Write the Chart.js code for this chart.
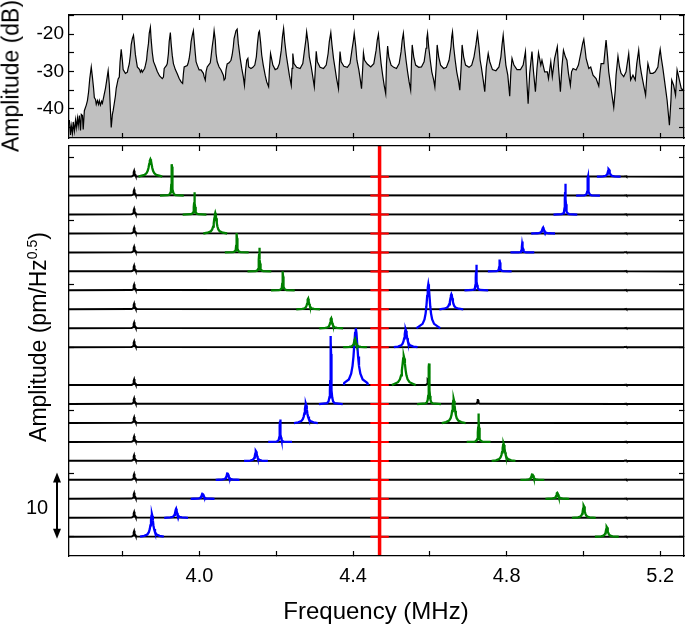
<!DOCTYPE html>
<html>
<head>
<meta charset="utf-8">
<script src="https://cdn.jsdelivr.net/npm/chart.js@4.4.0/dist/chart.umd.min.js"></script>
<style>
  body { margin: 0; background: #fff; width: 685px; height: 628px; position: relative; overflow: hidden;
         font-family: "Liberation Sans", Arial, sans-serif; }
  canvas { position: absolute; left: 0; }
  #topChart { top: 0; }
  #waterfall { top: 142px; }
  .lbl { position: absolute; white-space: nowrap; line-height: 1; color: #000; transform: translate(-50%, -50%); }
  .rot { transform: translate(-50%, -50%) rotate(-90deg); }
  sup { font-size: 14px; line-height: 0; vertical-align: 9px; }
</style>
</head>
<body>
<canvas id="topChart" width="685" height="142"></canvas>
<canvas id="waterfall" width="685" height="486"></canvas>
<div class="lbl rot" style="left:11px;top:76px;font-size:23px">Amplitude (dB)</div>
<div class="lbl rot" style="left:38px;top:337px;font-size:23px">Amplitude (pm/Hz<sup>0.5</sup>)</div>
<div class="lbl" style="left:37px;top:507px;font-size:20px">10</div>
<div class="lbl" style="left:376px;top:611px;font-size:24px">Frequency (MHz)</div>
<script>
// ---- top panel: spectrum (MHz, dB) ----
const spectrum = [
  [3.661,-43.0],[3.664,-47.0],[3.666,-44.5],[3.669,-46.5],[3.671,-43.5],[3.674,-46.0],[3.677,-43.0],[3.679,-45.0],
  [3.682,-42.5],[3.684,-44.5],[3.687,-41.8],[3.690,-45.8],[3.692,-41.5],[3.695,-41.8],[3.697,-45.5],[3.700,-40.5],
  [3.705,-39.0],[3.708,-37.8],[3.711,-35.5],[3.714,-32.0],[3.718,-28.8],[3.721,-31.5],[3.724,-34.5],[3.726,-37.0],
  [3.729,-37.5],[3.731,-38.8],[3.734,-37.8],[3.737,-38.8],[3.739,-37.8],[3.742,-39.0],[3.745,-38.0],[3.747,-38.5],
  [3.750,-37.0],[3.755,-34.5],[3.758,-32.5],[3.762,-29.8],[3.765,-33.5],[3.768,-40.5],[3.770,-45.0],[3.773,-41.5],
  [3.775,-40.5],[3.778,-38.5],[3.781,-36.5],[3.783,-34.5],[3.788,-32.0],[3.791,-31.5],[3.793,-27.5],[3.796,-24.1],
  [3.799,-27.0],[3.801,-29.5],[3.807,-30.5],[3.812,-30.2],[3.814,-29.2],[3.817,-28.0],[3.820,-25.5],[3.822,-22.8],
  [3.825,-21.2],[3.828,-20.3],[3.830,-22.2],[3.833,-25.5],[3.836,-27.5],[3.838,-28.8],[3.844,-29.5],[3.846,-30.2],
  [3.849,-29.6],[3.851,-30.2],[3.857,-29.2],[3.859,-28.4],[3.862,-27.0],[3.864,-24.8],[3.867,-22.5],[3.869,-19.8],
  [3.872,-18.2],[3.874,-21.5],[3.877,-25.0],[3.880,-27.3],[3.885,-28.6],[3.890,-30.0],[3.896,-31.2],[3.903,-31.9],
  [3.906,-31.5],[3.908,-29.2],[3.914,-28.4],[3.916,-27.9],[3.919,-25.2],[3.921,-22.0],[3.924,-19.6],[3.926,-22.5],
  [3.929,-25.7],[3.932,-27.9],[3.937,-29.5],[3.942,-30.6],[3.947,-31.9],[3.952,-32.8],[3.956,-33.2],[3.958,-30.6],
  [3.960,-28.8],[3.968,-28.4],[3.970,-27.9],[3.973,-26.6],[3.976,-24.3],[3.978,-22.1],[3.981,-20.4],[3.984,-19.1],
  [3.986,-21.6],[3.989,-25.2],[3.991,-27.4],[3.994,-28.3],[3.999,-29.6],[4.004,-29.6],[4.010,-30.5],[4.012,-31.4],
  [4.015,-32.3],[4.017,-30.1],[4.020,-28.8],[4.025,-28.1],[4.028,-27.7],[4.030,-26.1],[4.033,-23.4],[4.036,-21.2],
  [4.038,-19.1],[4.041,-21.6],[4.043,-25.2],[4.046,-27.4],[4.051,-28.8],[4.056,-29.6],[4.062,-31.0],[4.064,-32.3],
  [4.067,-31.9],[4.069,-29.6],[4.072,-28.0],[4.077,-27.7],[4.082,-27.0],[4.085,-25.6],[4.088,-23.4],[4.090,-21.2],
  [4.095,-19.1],[4.098,-18.7],[4.101,-22.5],[4.106,-26.5],[4.110,-29.2],[4.114,-31.4],[4.117,-33.7],[4.120,-29.6],
  [4.123,-27.0],[4.126,-26.5],[4.128,-28.8],[4.134,-29.2],[4.139,-28.9],[4.144,-28.3],[4.148,-26.1],[4.151,-22.5],
  [4.154,-19.6],[4.156,-19.2],[4.159,-22.1],[4.162,-25.6],[4.166,-28.3],[4.171,-31.0],[4.175,-32.8],[4.180,-34.1],
  [4.182,-29.6],[4.185,-25.2],[4.191,-28.3],[4.197,-29.5],[4.203,-29.2],[4.208,-27.9],[4.213,-24.3],[4.216,-20.7],
  [4.219,-18.5],[4.222,-22.1],[4.226,-25.6],[4.230,-28.3],[4.234,-31.0],[4.239,-33.7],[4.241,-29.2],[4.243,-25.2],
  [4.246,-27.9],[4.253,-28.9],[4.262,-29.2],[4.269,-27.9],[4.273,-24.7],[4.277,-21.6],[4.279,-19.4],[4.283,-22.5],
  [4.286,-26.1],[4.291,-28.8],[4.295,-31.4],[4.299,-34.1],[4.302,-28.8],[4.304,-24.6],[4.307,-27.4],[4.314,-28.9],
  [4.323,-29.2],[4.330,-28.3],[4.335,-25.2],[4.338,-22.1],[4.342,-19.6],[4.345,-22.9],[4.349,-26.5],[4.353,-29.2],
  [4.357,-31.9],[4.362,-34.6],[4.364,-28.8],[4.366,-24.7],[4.369,-27.4],[4.376,-28.6],[4.385,-28.9],[4.392,-27.9],
  [4.397,-24.3],[4.401,-21.6],[4.403,-19.8],[4.407,-23.4],[4.410,-27.0],[4.415,-29.6],[4.419,-32.3],[4.422,-34.6],
  [4.425,-29.2],[4.427,-25.0],[4.430,-27.0],[4.437,-28.0],[4.446,-28.8],[4.454,-27.9],[4.460,-24.3],[4.463,-21.6],
  [4.466,-20.0],[4.469,-23.8],[4.473,-27.9],[4.477,-31.0],[4.481,-33.7],[4.485,-35.9],[4.487,-27.9],[4.490,-23.2],
  [4.493,-26.1],[4.499,-28.3],[4.506,-28.9],[4.513,-29.2],[4.520,-27.9],[4.525,-24.7],[4.528,-21.6],[4.531,-19.8],
  [4.534,-23.4],[4.538,-27.0],[4.542,-30.1],[4.546,-32.8],[4.550,-35.0],[4.552,-27.9],[4.554,-22.9],[4.558,-26.1],
  [4.563,-28.3],[4.571,-28.9],[4.578,-28.8],[4.585,-27.4],[4.590,-23.8],[4.592,-21.2],[4.594,-19.8],[4.597,-23.4],
  [4.601,-27.0],[4.605,-30.1],[4.610,-32.3],[4.613,-34.1],[4.617,-27.9],[4.619,-22.9],[4.623,-26.1],[4.628,-28.3],
  [4.636,-29.2],[4.643,-28.9],[4.650,-27.0],[4.655,-23.4],[4.657,-20.7],[4.659,-19.4],[4.662,-23.4],[4.666,-27.0],
  [4.670,-30.1],[4.675,-32.8],[4.678,-35.0],[4.682,-27.9],[4.684,-22.9],[4.688,-26.1],[4.693,-28.3],[4.702,-28.9],
  [4.709,-28.3],[4.715,-26.1],[4.720,-22.9],[4.724,-19.8],[4.728,-23.4],[4.731,-27.0],[4.734,-28.8],[4.739,-32.3],
  [4.743,-35.4],[4.747,-28.8],[4.752,-25.2],[4.756,-27.4],[4.763,-29.5],[4.772,-29.8],[4.780,-28.8],[4.785,-26.1],
  [4.788,-22.9],[4.791,-20.3],[4.794,-23.8],[4.798,-28.3],[4.803,-31.0],[4.808,-36.6],[4.811,-30.1],[4.814,-26.5],
  [4.819,-28.3],[4.827,-29.5],[4.836,-29.5],[4.843,-28.3],[4.849,-24.7],[4.852,-31.4],[4.856,-38.6],[4.860,-30.5],
  [4.866,-24.7],[4.870,-30.1],[4.875,-35.4],[4.879,-29.2],[4.883,-25.0],[4.889,-28.3],[4.892,-27.0],[4.899,-30.1],
  [4.906,-30.1],[4.909,-31.9],[4.915,-27.4],[4.919,-31.4],[4.925,-26.5],[4.932,-23.4],[4.935,-28.8],[4.940,-35.4],
  [4.944,-28.8],[4.948,-24.3],[4.953,-26.1],[4.957,-27.0],[4.961,-30.5],[4.966,-33.7],[4.969,-30.1],[4.973,-29.2],
  [4.981,-29.6],[4.987,-28.3],[4.994,-24.7],[4.998,-22.5],[5.001,-21.4],[5.004,-23.8],[5.007,-26.5],[5.014,-29.2],
  [5.019,-28.8],[5.025,-31.0],[5.033,-31.9],[5.040,-33.9],[5.043,-30.5],[5.046,-27.9],[5.053,-27.9],[5.056,-24.7],
  [5.059,-21.6],[5.063,-26.1],[5.066,-30.1],[5.072,-34.6],[5.079,-39.6],[5.083,-35.0],[5.085,-31.0],[5.090,-25.9],
  [5.094,-28.8],[5.098,-30.5],[5.105,-31.4],[5.111,-30.1],[5.118,-25.2],[5.123,-32.3],[5.129,-31.0],[5.135,-32.3],
  [5.139,-27.9],[5.144,-24.3],[5.147,-27.9],[5.151,-30.5],[5.157,-33.7],[5.162,-36.3],[5.165,-31.4],[5.168,-27.9],
  [5.174,-30.5],[5.181,-30.5],[5.187,-30.1],[5.194,-28.8],[5.197,-26.1],[5.200,-24.1],[5.203,-26.5],[5.207,-29.2],
  [5.214,-34.6],[5.218,-37.7],[5.224,-44.4],[5.228,-37.7],[5.230,-32.3],[5.235,-33.7],[5.240,-36.3],[5.244,-29.6],
  [5.248,-31.4],[5.250,-32.3],[5.255,-34.6],[5.259,-35.0],[5.262,-34.1]
];

// ---- bottom panel: waterfall, rows listed bottom -> top ----
const rowOffset  = [0, 3, 6, 9, 12, 15, 18, 21, 24, 30, 33, 36, 39, 42, 45, 48, 51, 54, 57];
const greenFreq  = [5.061, 5.001, 4.932, 4.867, 4.792, 4.727, 4.662, 4.598, 4.532, 4.405, 4.343, 4.283, 4.217, 4.156, 4.097, 4.041, 3.987, 3.928, 3.872];
const greenAmp   = [1.58, 1.95, 0.95, 0.95, 2.74, 4.50, 3.80, 6.43, 4.59, 1.31, 1.58, 1.69, 3.01, 3.75, 3.07, 3.26, 3.53, 4.97, 2.75];
const greenWidth = [0.003, 0.003, 0.003, 0.003, 0.004, 0.0012, 0.004, 0.0012, 0.005, 0.003, 0.003, 0.003, 0.0012, 0.0012, 0.0012, 0.004, 0.0012, 0.0012, 0.005];
const blueFreq   = [3.876, 3.939, 4.008, 4.073, 4.147, 4.210, 4.277, 4.342, 4.407, 4.537, 4.596, 4.656, 4.721, 4.782, 4.841, 4.895, 4.953, 5.012, 5.066];
const blueAmp    = [3.59, 1.42, 0.89, 1.11, 1.58, 3.55, 3.01, 10.77, 9.02, 2.80, 6.97, 2.37, 4.07, 1.90, 1.74, 0.95, 4.86, 3.01, 1.17];
const blueWidth  = [0.004, 0.003, 0.003, 0.003, 0.003, 0.0012, 0.004, 0.0012, 0.006, 0.004, 0.005, 0.004, 0.0012, 0.0012, 0.0012, 0.003, 0.0012, 0.0012, 0.003];
// small black peaks present on every row [MHz, amplitude, half width], plus single ones [row, MHz, amplitude]
const blackPeaks = [[3.830, 0.95, 0.0015], [5.110, 0.15, 0.001]];
const blackExtra = [[7, 4.725, 0.8], [8, 4.595, 0.9]];
const redFreq = 4.469;

const xRange = { min: 3.660, max: 5.262, step: 0.2 };

// lorentzian outline in units of the half width
const PEAK_SHAPE = [[-8,0.015],[-5,0.038],[-3,0.1],[-2,0.2],[-1.4,0.338],[-1,0.5],[-0.6,0.735],[-0.3,0.917],[0,1],
                    [0.3,0.917],[0.6,0.735],[1,0.5],[1.4,0.338],[2,0.2],[3,0.1],[5,0.038],[8,0.015]];
const SEG = 0.031;      // half length of the coloured piece of trace
const RED_SEG = 0.024;

function peakTrace(freqs, amps, widths) {
  const pts = [];
  freqs.forEach((c, i) => {
    const base = rowOffset[i], w = widths[i];
    pts.push({x: c - SEG, y: base});
    PEAK_SHAPE.forEach(([u, s]) => {
      if (Math.abs(u * w) < SEG) pts.push({x: c + u * w, y: base + amps[i] * s});
    });
    pts.push({x: c + SEG, y: base}, {x: c + SEG, y: null});
  });
  return pts;
}

function baseTrace() {
  const pts = [];
  rowOffset.forEach((base, i) => {
    const feats = blackPeaks.slice();
    blackExtra.filter(e => e[0] === i).forEach(e => feats.push([e[1], e[2], 0.0012]));
    feats.sort((a, b) => a[0] - b[0]);
    pts.push({x: 3.6, y: base});
    feats.forEach(([c, h, w]) => {
      PEAK_SHAPE.forEach(([u, s]) => { if (Math.abs(u) <= 5) pts.push({x: c + u * w, y: base + h * s}); });
    });
    pts.push({x: 5.3, y: base}, {x: 5.3, y: null});
  });
  return pts;
}

function redTrace() {
  const pts = [];
  rowOffset.forEach(base => {
    pts.push({x: redFreq - RED_SEG, y: base}, {x: redFreq + RED_SEG, y: base}, {x: redFreq + RED_SEG, y: null});
  });
  return pts;
}

// frame axis with inward ticks and a fixed size
function frameAxis(pos, min, max, step, size, tickOpts) {
  return {
    type: 'linear', position: pos, min: min, max: max,
    border: { display: true, color: '#000', width: 1.3, z: 1 },
    grid: { drawOnChartArea: false, drawTicks: true, tickLength: -5, tickColor: '#000', tickWidth: 1.2, z: 1 },
    ticks: Object.assign({ stepSize: step, includeBounds: false, autoSkip: false, display: false }, tickOpts || {}),
    afterFit: s => {
      if (pos === 'left' || pos === 'right') s.width = size; else s.height = size;
      s.paddingLeft = s.paddingRight = s.paddingTop = s.paddingBottom = 0;
    }
  };
}

const tickFont = { family: '"Liberation Sans", Arial, sans-serif', size: 20 };

const common = {
  responsive: false, animation: false, events: [],
  layout: { padding: 0, autoPadding: false },
  plugins: { legend: { display: false }, tooltip: { enabled: false } }
};

new Chart(document.getElementById('topChart'), {
  type: 'scatter',
  data: {
    datasets: [{
      data: spectrum.map(p => ({x: p[0], y: p[1]})),
      showLine: true, pointRadius: 0, borderColor: '#000', borderWidth: 1.2,
      fill: 'start', backgroundColor: '#c0c0c0'
    }]
  },
  options: Object.assign({}, common, {
    scales: {
      x: frameAxis('bottom', xRange.min, xRange.max, xRange.step, 4),
      xt: frameAxis('top', xRange.min, xRange.max, xRange.step, 15),
      y: frameAxis('left', -47.8, -14.9, 5, 69, {
        display: true, color: '#000', font: { family: tickFont.family, size: 19 }, padding: 10,
        callback: v => (Math.round(v) % 10 === 0 ? String(Math.round(v)) : '')
      }),
      yr: frameAxis('right', -47.8, -14.9, 5, 1)
    }
  })
});

const arrowPlugin = {
  id: 'scaleArrow',
  afterDraw(chart) {
    const ctx = chart.ctx, ys = chart.scales.y;
    const x = 57, yTop = ys.getPixelForValue(10) - 1, yBot = ys.getPixelForValue(0) + 2;
    ctx.save();
    ctx.strokeStyle = '#000'; ctx.fillStyle = '#000'; ctx.lineWidth = 2;
    ctx.beginPath(); ctx.moveTo(x, yTop + 6); ctx.lineTo(x, yBot - 6); ctx.stroke();
    ctx.beginPath(); ctx.moveTo(x, yTop); ctx.lineTo(x - 4, yTop + 10); ctx.lineTo(x + 4, yTop + 10); ctx.closePath(); ctx.fill();
    ctx.beginPath(); ctx.moveTo(x, yBot); ctx.lineTo(x - 4, yBot - 10); ctx.lineTo(x + 4, yBot - 10); ctx.closePath(); ctx.fill();
    ctx.restore();
  }
};

new Chart(document.getElementById('waterfall'), {
  type: 'scatter',
  data: {
    datasets: [
      { data: [{x: redFreq, y: -10}, {x: redFreq, y: 70}], borderColor: '#ff0000', borderWidth: 3.5, order: 0 },
      { data: peakTrace(greenFreq, greenAmp, greenWidth), borderColor: '#008000', borderWidth: 2.3, order: 1 },
      { data: peakTrace(blueFreq, blueAmp, blueWidth), borderColor: '#0000ff', borderWidth: 2.3, order: 1 },
      { data: redTrace(), borderColor: '#ff0000', borderWidth: 2, order: 2 },
      { data: baseTrace(), borderColor: '#000', borderWidth: 2, order: 3 }
    ].map(d => Object.assign({ showLine: true, pointRadius: 0, spanGaps: false, tension: 0 }, d))
  },
  options: Object.assign({}, common, {
    scales: {
      x: frameAxis('bottom', xRange.min, xRange.max, xRange.step, 72, {
        display: true, color: '#000', font: tickFont, padding: 13, maxRotation: 0,
        callback: v => (Math.round(v * 10) % 4 === 0 ? v.toFixed(1) : '')
      }),
      xt: frameAxis('top', xRange.min, xRange.max, xRange.step, 4),
      y: frameAxis('left', -3.05, 61.85, 10, 69),
      yr: frameAxis('right', -3.05, 61.85, 10, 1)
    }
  }),
  plugins: [arrowPlugin]
});
</script>
</body>
</html>
